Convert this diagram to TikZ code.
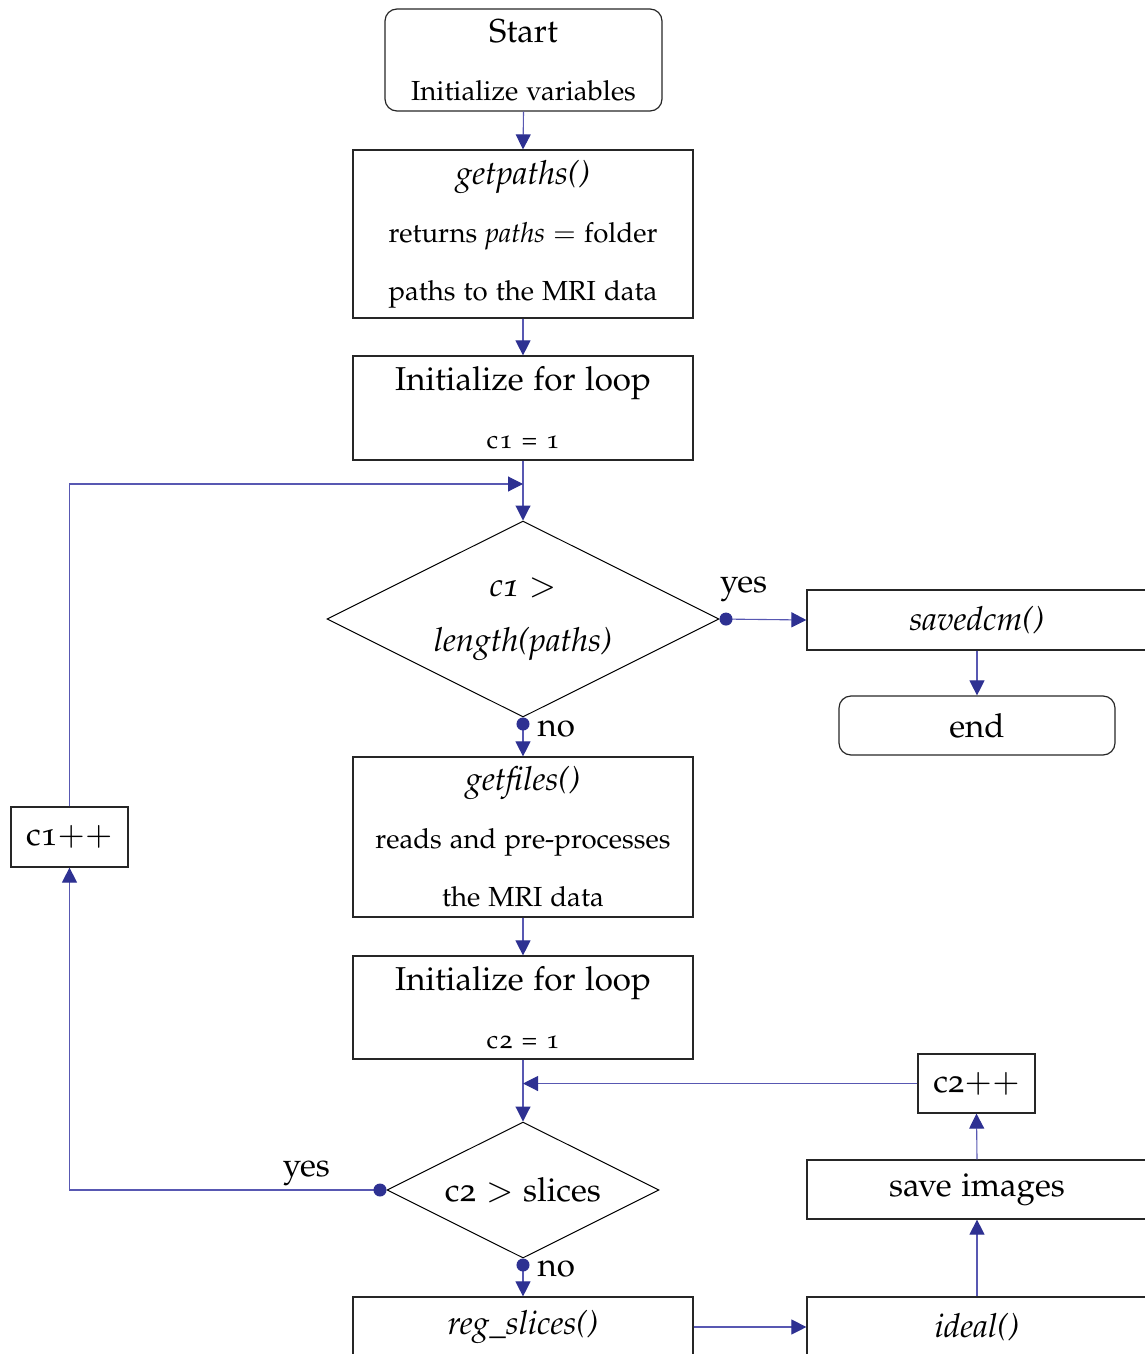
\documentclass[tikz,border=0pt]{standalone}
\usepackage[T1]{fontenc}
\usepackage[osf]{mathpazo}
\usetikzlibrary{arrows.meta,shapes.geometric}
\definecolor{ab}{RGB}{46,49,146}
\definecolor{lb}{RGB}{88,88,178}
\newcommand\bigf{\fontsize{33.1}{58}\selectfont}
\newcommand\medf{\fontsize{27.6}{58}\selectfont}
\newcommand\smf{\fontsize{26}{58}\selectfont}
\tikzset{
  box/.style={draw=black!85, line width=1.2pt, inner sep=0pt, align=center, minimum width=340pt, font=\medf},
  rbox/.style={box, rounded corners=12pt},
  dec/.style={diamond, aspect=2, draw=black, line width=1pt, inner sep=0pt, align=center, font=\bigf},
  conn/.style={draw=lb, line width=1.1pt, -{Triangle[length=15pt,width=15pt,color=ab]}},
  dconn/.style={draw=lb, line width=1.1pt, {Circle[length=13pt,color=ab]}-{Triangle[length=15pt,width=15pt,color=ab]}},
  lab/.style={font=\bigf, inner sep=0pt}
}
\begin{document}
\begin{tikzpicture}[x=1pt,y=-1pt]
\useasboundingbox (0,0) rectangle (1145,1354);
\clip (0,0) rectangle (1145,1354);
\node[rbox, minimum width=277pt, minimum height=102pt] (start) at (523.5,60) {{\bigf Start}\\{Initialize variables}};
\node[box, minimum height=168pt] (getpaths) at (523,234) {{\bigf\textit{getpaths()}}\\returns \textit{paths} $=$ folder\\paths to the MRI data};
\node[box, minimum height=104pt] (init1) at (523,408) {{\bigf Initialize for loop}\\{\smf c\kern1.5pt1\hspace{9pt}=\hspace{9pt}1}};
\node[dec, minimum width=392pt, minimum height=196pt] (dia1) at (523,619) {\textit{c1 $>$}\\[-3pt]\textit{length(paths)}};
\node[box, minimum height=60pt, font=\bigf] (savedcm) at (977,620) {\textit{savedcm()}};
\node[rbox, minimum width=276pt, minimum height=59pt, font=\bigf] (end) at (977,725.5) {end};
\node[box, minimum height=160pt] (getfiles) at (523,837) {{\bigf\textit{getfiles()}}\\reads and pre-processes\\the MRI data};
\node[box, minimum height=103pt] (init2) at (523,1007.5) {{\bigf Initialize for loop}\\{\smf c\kern1.5pt2\hspace{9pt}=\hspace{9pt}1}};
\node[dec, minimum width=272pt, minimum height=136pt] (dia2) at (523,1190) {c2 $>$ slices};
\node[box, minimum width=117pt, minimum height=59pt, font=\bigf] (c2pp) at (976.5,1083.5) {c2$++$};
\node[box, minimum height=59pt, font=\bigf] (saveimg) at (977,1189.5) {save images};
\node[box, minimum width=117pt, minimum height=60pt, font=\bigf] (c1pp) at (69.5,837) {c1$++$};
\node[box, minimum height=60pt, font=\bigf] (regs) at (523,1327) {\textit{reg\_slices()}};
\node[box, minimum height=60pt, font=\bigf] (ideal) at (977,1327) {\textit{ideal()}};
\coordinate (loop1) at (523,484);
\coordinate (loop2) at (523,1083.5);

\draw[conn] (start.south) -- (getpaths.north);
\draw[conn] (getpaths.south) -- (init1.north);
\draw[conn] (init1.south) -- (dia1.north);
\draw[dconn] (dia1.east) -- node[lab, pos=0, anchor=base west, yshift=27pt]{yes} (savedcm.west);
\draw[conn] (savedcm.south) -- (end.north);
\draw[dconn] (dia1.south) -- node[lab, pos=0, anchor=base west, xshift=14pt, yshift=-19pt]{no} (getfiles.north);
\draw[conn] (getfiles.south) -- (init2.north);
\draw[conn] (init2.south) -- (dia2.north);
\draw[dconn] (dia2.south) -- node[lab, pos=0, anchor=base west, xshift=14pt, yshift=-18pt]{no} (regs.north);
\draw[dconn] (dia2.west) -| node[lab, pos=0, anchor=base east, xshift=-56pt, yshift=14pt]{yes} (c1pp.south);
\draw[conn] (c1pp.north) |- (loop1);
\draw[conn] (regs.east) -- (ideal.west);
\draw[conn] (ideal.north) -- (saveimg.south);
\draw[conn] (saveimg.north) -- (c2pp.south);
\draw[conn] (c2pp.west) -- (loop2);
\end{tikzpicture}
\end{document}
